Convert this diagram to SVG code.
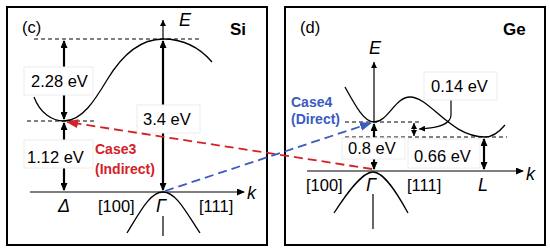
<svg xmlns="http://www.w3.org/2000/svg" width="550" height="252" viewBox="0 0 550 252">
<defs>
<marker id="ah" markerUnits="userSpaceOnUse" markerWidth="8" markerHeight="7" refX="7" refY="3.5" orient="auto-start-reverse"><path d="M0,0 L8,3.5 L0,7 z" fill="#000"/></marker>
<marker id="ahs" markerUnits="userSpaceOnUse" markerWidth="6" markerHeight="6" refX="6" refY="3" orient="auto-start-reverse"><path d="M0,0 L6,3 L0,6 z" fill="#000"/></marker>
<marker id="ahr" markerUnits="userSpaceOnUse" markerWidth="12" markerHeight="9" refX="11" refY="4.5" orient="auto"><path d="M0,0 L12,4.5 L0,9 z" fill="#d42027"/></marker>
<marker id="ahb" markerUnits="userSpaceOnUse" markerWidth="12" markerHeight="9" refX="11" refY="4.5" orient="auto"><path d="M0,0 L12,4.5 L0,9 z" fill="#3a5bbf"/></marker>
</defs>
<style>
.frame{fill:#fff;stroke:#000;stroke-width:2}
.curve{fill:none;stroke:#000;stroke-width:1.3}
.dash{fill:none;stroke:#000;stroke-width:1;stroke-dasharray:4,3}
.thin{fill:none;stroke:#000;stroke-width:1.2}
.thick{fill:none;stroke:#000;stroke-width:2.2}
.box{fill:#fff;stroke:#ececec;stroke-width:1}
text{font-family:"Liberation Sans",Arial,sans-serif;fill:#000}
.lbl{font-size:16.5px}
.it{font-style:italic;font-size:18px}
.bold{font-weight:bold;font-size:17px}
.case{font-weight:bold;font-size:14px}
</style>
<rect class="frame" x="7" y="7" width="260" height="238"/>
<rect class="frame" x="285" y="7" width="260" height="238"/>

<g id="si-panel">
<text x="22" y="33" class="lbl" font-size="17">(c)</text>
<text x="230" y="35" class="bold">Si</text>
<text x="179" y="26" class="it">E</text>
<line class="dash" x1="34" y1="39" x2="202" y2="39"/>
<line class="dash" x1="27" y1="121" x2="97" y2="121"/>
<path class="curve" d="M34,97 C40,113 52,121 64,121 C82,121 95,100 107,80 C122,55 140,39 163,39 C185,39 200,48 212,62"/>
<path class="curve" d="M127,233 C140,212 150,192 163,192 C176,192 186,212 200,233"/>
<line class="thin" x1="163" y1="216" x2="163" y2="236"/>
<line class="thin" x1="163" y1="39" x2="163" y2="20" marker-end="url(#ahs)"/>
<line class="thin" x1="30" y1="192" x2="244" y2="192" marker-end="url(#ah)"/>
<text x="247" y="199" class="it">k</text>
<text x="58" y="212" class="it">Δ</text>
<text x="98" y="212" class="lbl" font-size="17">[100]</text>
<text x="156" y="212" class="it">Γ</text>
<text x="199" y="212" class="lbl" font-size="17">[111]</text>
</g>

<g id="si-arrows">
<line class="thick" x1="64" y1="41" x2="64" y2="119" marker-start="url(#ah)" marker-end="url(#ah)"/>
<line class="thick" x1="64" y1="123" x2="64" y2="190" marker-start="url(#ah)" marker-end="url(#ah)"/>
<line class="thick" x1="163" y1="41" x2="163" y2="190" marker-start="url(#ah)" marker-end="url(#ah)"/>
</g>
<g id="si-labels">
<rect class="box" x="24" y="67" width="69" height="28"/>
<text x="31" y="87" class="lbl">2.28 eV</text>
<rect class="box" x="137" y="105" width="63" height="28"/>
<text x="143" y="125" class="lbl">3.4 eV</text>
<rect class="box" x="24" y="140" width="69" height="28"/>
<text x="27" y="163" class="lbl">1.12 eV</text>
<text x="95" y="154" class="case" fill="#d42027" style="fill:#d42027">Case3</text>
<text x="95" y="174" class="case" style="fill:#d42027">(Indirect)</text>
</g>

<g id="ge-panel">
<text x="300" y="33" class="lbl" font-size="17">(d)</text>
<text x="503" y="35" class="bold">Ge</text>
<text x="369" y="54" class="it">E</text>
<line class="dash" x1="345" y1="122" x2="422" y2="122"/>
<line class="dash" x1="345" y1="137" x2="507" y2="137"/>
<path class="curve" d="M345,87 C355,105 364,122 374,122 C388,122 395,97 410,97 C430,97 450,137 485,137 C493,137 500,131 505,125"/>
<path class="curve" d="M334,213 C347,193 362,172 373,172 C384,172 397,193 408,213"/>
<line class="thin" x1="373" y1="194" x2="373" y2="229"/>
<line class="thin" x1="374" y1="122" x2="374" y2="62" marker-end="url(#ahs)"/>
<line class="thin" x1="307" y1="171" x2="523" y2="171" marker-end="url(#ah)"/>
<text x="526" y="180" class="it">k</text>
<text x="306" y="191" class="lbl" font-size="17">[100]</text>
<text x="366" y="191" class="it">Γ</text>
<text x="407" y="191" class="lbl" font-size="17">[111]</text>
<text x="478" y="191" class="it">L</text>
</g>

<g id="ge-arrows">
<line class="thick" x1="374" y1="137" x2="374" y2="124" marker-end="url(#ah)"/>
<line class="thick" x1="374" y1="158" x2="374" y2="169" marker-end="url(#ah)"/>
<line class="thick" x1="484" y1="139" x2="484" y2="169" marker-start="url(#ah)" marker-end="url(#ah)"/>
<line class="thin" x1="414" y1="123" x2="414" y2="136" stroke-width="1.6" marker-start="url(#ahs)" marker-end="url(#ahs)"/>
<path class="thin" d="M451,100 L451,115 C451,125 437,128 419,129" marker-end="url(#ahs)"/>
</g>
<g id="ge-labels">
<rect class="box" x="424" y="72" width="73" height="28"/>
<text x="431" y="92" class="lbl">0.14 eV</text>
<rect class="box" x="342" y="138" width="63" height="21"/>
<text x="348" y="154" class="lbl">0.8 eV</text>
<rect class="box" x="408" y="139" width="72" height="29"/>
<text x="414" y="162" class="lbl">0.66 eV</text>
<text x="291" y="107" class="case" style="fill:#3a5bbf">Case4</text>
<text x="291" y="124" class="case" style="fill:#3a5bbf">(Direct)</text>
</g>

<g id="connectors">
<line x1="372" y1="169" x2="67" y2="122" stroke="#d42027" stroke-width="1.8" stroke-dasharray="9,5" marker-end="url(#ahr)"/>
<line x1="165" y1="191" x2="371" y2="123" stroke="#3a5bbf" stroke-width="1.8" stroke-dasharray="9,5" marker-end="url(#ahb)"/>
</g>
</svg>
